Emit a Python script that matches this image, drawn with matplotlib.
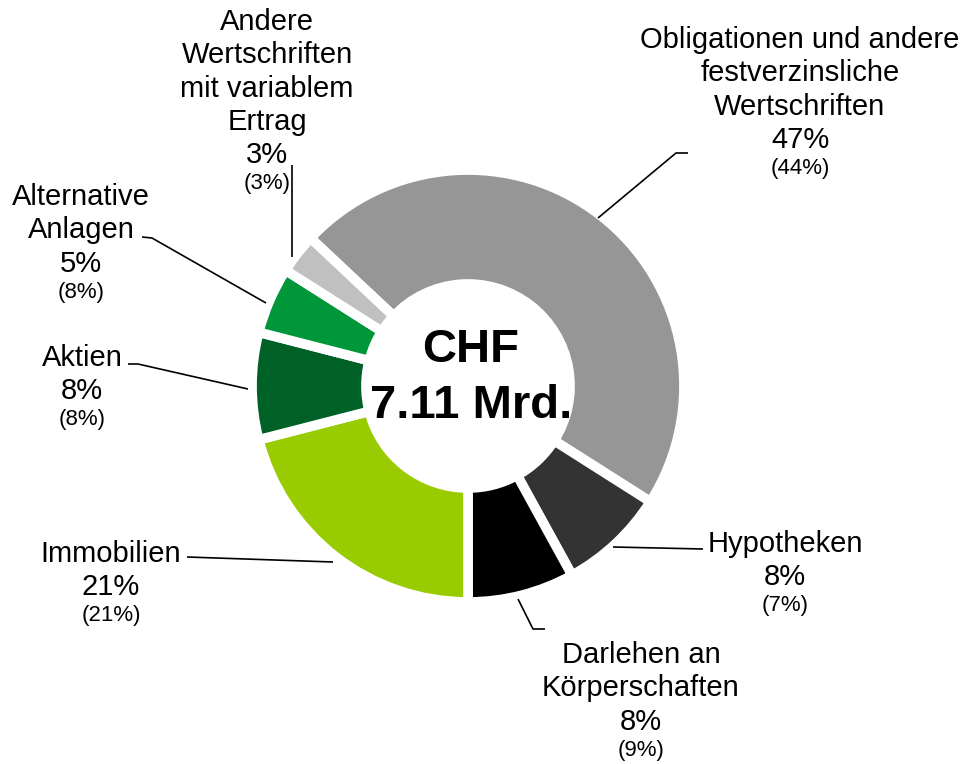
# Asset allocation doughnut (CHF 7.11 Mrd.)

import matplotlib
matplotlib.use("Agg")
import matplotlib.pyplot as plt

plt.rcParams["font.family"] = ["Liberation Sans", "DejaVu Sans"]

categories = ["Obligationen und andere\nfestverzinsliche\nWertschriften",
              "Hypotheken",
              "Darlehen an\nKörperschaften",
              "Immobilien",
              "Aktien",
              "Alternative\nAnlagen",
              "Andere\nWertschriften\nmit variablem\nErtrag"]
shares = [47, 8, 8, 21, 8, 5, 3]
prev_shares = [44, 7, 9, 21, 8, 8, 3]
colors = ["#969696", "#333333", "#000000", "#99CC00", "#006126", "#00963A", "#C0C0C0"]
total_text = ["CHF", "7.11 Mrd."]

W, H = 965, 764

# layout in pixels (y down): label centre x and first baseline
label_pos = [(800, 48), (785, 552), (641, 663), (111, 562), (82, 366), (81, 205), (267, 30)]
leaders = [
    [(598, 218), (676, 153), (688, 153)],
    [(613, 547), (703, 549)],
    [(518, 599), (533, 629), (545, 629)],
    [(333, 562), (187, 557)],
    [(248, 389), (138, 364), (128, 364)],
    [(266, 303), (152, 238), (142, 237)],
    [(292, 257), (292, 165)],
]

fig = plt.figure(figsize=(W / 100, H / 100), dpi=100)
ax = fig.add_axes([0, 0, 1, 1])

# y axis is inverted below, so counterclock=True draws clockwise on screen
ax.pie(shares, colors=colors, startangle=-136.8, counterclock=True,
       center=(468, 386), radius=216,
       wedgeprops=dict(width=114, edgecolor="white", linewidth=7))

ax.set_xlim(0, W)
ax.set_ylim(H, 0)
ax.set_aspect("equal")
ax.axis("off")

line_h = 33.3
for name, s, p, (x, y) in zip(categories, shares, prev_shares, label_pos):
    lines = name.split("\n")
    for i, ln in enumerate(lines):
        ax.text(x, y + i * line_h, ln, ha="center", va="baseline", fontsize=21)
    y_pct = y + len(lines) * line_h
    ax.text(x, y_pct, f"{s}%", ha="center", va="baseline", fontsize=21)
    ax.text(x, y_pct + 26, f"({p}%)", ha="center", va="baseline", fontsize=16)

for pts in leaders:
    xs = [pt[0] for pt in pts]
    ys = [pt[1] for pt in pts]
    ax.plot(xs, ys, color="black", lw=1.2, solid_capstyle="butt")

ax.text(471, 362, total_text[0], ha="center", va="baseline", fontsize=34, fontweight="bold")
ax.text(471, 418, total_text[1], ha="center", va="baseline", fontsize=34, fontweight="bold")

fig.savefig("out.png", dpi=100)
